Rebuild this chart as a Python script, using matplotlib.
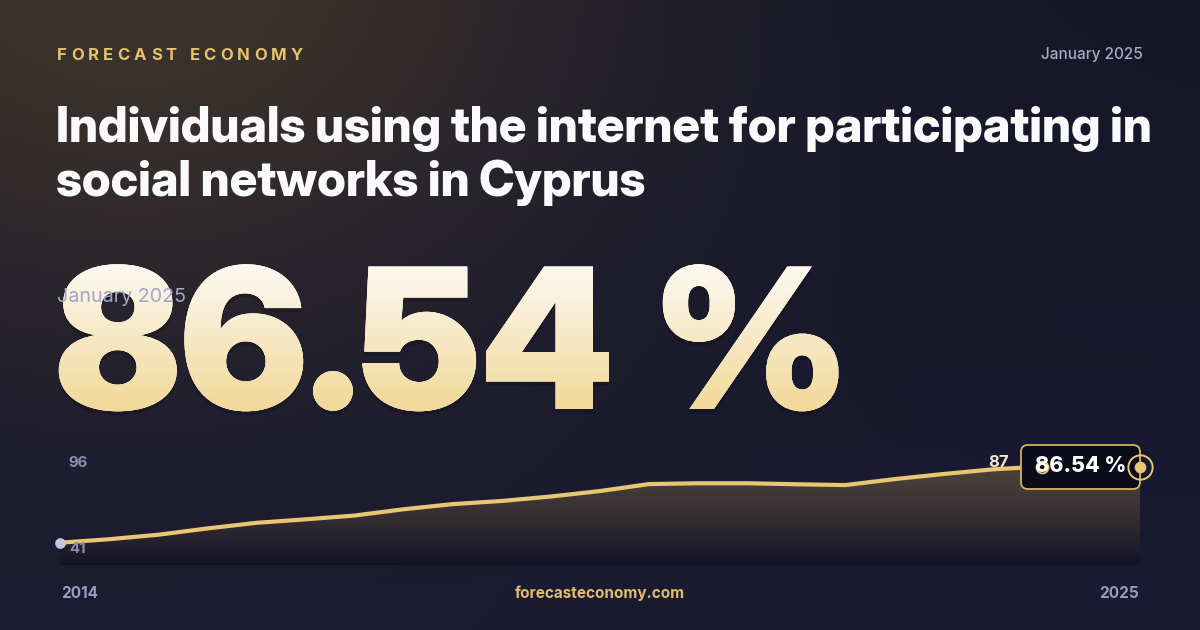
import numpy as np
import matplotlib
matplotlib.use("Agg")
import matplotlib.pyplot as plt
from matplotlib.patches import FancyBboxPatch, Polygon, PathPatch
from matplotlib.textpath import TextPath
from matplotlib.font_manager import FontProperties
from matplotlib.transforms import Affine2D
import matplotlib.patheffects as pe

# ---------------- data ----------------
years = [2014.0, 2014.5, 2015.0, 2015.5, 2016.0, 2016.5, 2017.0, 2017.5,
         2018.0, 2018.5, 2019.0, 2019.5, 2020.0, 2020.5, 2021.0, 2021.5,
         2022.0, 2022.5, 2023.0, 2023.5, 2024.0, 2024.5, 2025.0]
values = [41.0, 43.1, 45.8, 49.6, 53.0, 55.1, 57.4, 61.2,
          64.3, 66.2, 68.9, 72.2, 76.4, 76.9, 76.9, 76.3,
          75.8, 79.4, 82.5, 85.3, 87.0, 86.8, 86.54]
axis_max_label = "96"
axis_min_label = "41"
peak_year, peak_label = 2024.0, "87"
latest_value_text = "86.54 %"
start_year_label, end_year_label = "2014", "2025"
brand = "FORECAST ECONOMY"
date_label = "January 2025"
title_lines = ["Individuals using the internet for participating in",
               "social networks in Cyprus"]
site = "forecasteconomy.com"

W, H, DPI = 1200, 630, 100
GOLD = "#e8c674"

fig = plt.figure(figsize=(W / DPI, H / DPI), dpi=DPI)
renderer = fig.canvas.get_renderer()

# ---------------- background ----------------
bg = fig.add_axes([0, 0, 1, 1])
bg.set_xlim(0, W); bg.set_ylim(H, 0); bg.axis("off")
yy, xx = np.mgrid[0:H, 0:W].astype(float)
top = np.array([21, 22, 40], float); bot = np.array([26, 27, 50], float)
base = top + (bot - top) * (yy / H)[..., None]
glow_c = np.array([62, 52, 44], float)
d = np.hypot((xx - 130) / 1.3, yy + 40)
w = np.exp(-(d / 380.0) ** 2)[..., None]
img = base + (glow_c - base) * w
bg.imshow(np.clip(img / 255, 0, 1), extent=(0, W, H, 0), aspect="auto", zorder=0,
          interpolation="bilinear")
bg.set_xlim(0, W); bg.set_ylim(H, 0)

# ---------------- chart ----------------
px_top, px_bot, px_left, px_right = 440, 565, 60, 1140
ylo, yhi = 27.53, 103.02
ax = fig.add_axes([px_left / W, (H - px_bot) / H, (px_right - px_left) / W, (px_bot - px_top) / H])
ax.patch.set_alpha(0)
ax.axis("off")
verts = list(zip(years, values)) + [(years[-1], ylo), (years[0], ylo)]
poly = Polygon(verts, closed=True, facecolor="none", edgecolor="none")
ax.add_patch(poly)
ctop = np.array([0x4c, 0x42, 0x3a]) / 255
cbot = np.array([0x14, 0x14, 0x28]) / 255
t = np.linspace(0, 1, 256)[:, None]
grad = (ctop + (cbot - ctop) * t ** 1.25)[:, None, :]
gim = ax.imshow(grad, extent=(years[0], years[-1], ylo, max(values)), origin="upper",
                aspect="auto", zorder=1, interpolation="bilinear")
gim.set_clip_path(poly)
ax.plot(years, values, color=GOLD, lw=3.0, solid_capstyle="round", solid_joinstyle="round", zorder=3)
ax.set_xlim(years[0], years[-1]); ax.set_ylim(ylo, yhi)

# ---------------- overlay ----------------
ov = fig.add_axes([0, 0, 1, 1])
ov.set_xlim(0, W); ov.set_ylim(H, 0); ov.axis("off"); ov.patch.set_alpha(0)


def fit_text(axh, x, y, s, target_w, fs0, **kw):
    tx = axh.text(x, y, s, fontsize=fs0, **kw)
    wid = tx.get_window_extent(renderer).width
    tx.set_fontsize(fs0 * target_w / wid)
    return tx


def spaced(axh, x0, x1, y, s, **kw):
    ts = [axh.text(0, y, c, **kw) for c in s]
    ws = [tt.get_window_extent(renderer).width for tt in ts]
    gap = (x1 - x0 - sum(ws)) / (len(s) - 1)
    x = x0
    for tt, wd in zip(ts, ws):
        tt.set_x(x)
        x += wd + gap


spaced(ov, 57, 303, 59.5, brand, family="Inter", fontweight=700, fontsize=12,
       color="#e6c26e", va="baseline", ha="left")
ov.text(1143, 59.5, date_label, family="Inter", fontweight=500, fontsize=11,
        color="#a8aac6", ha="right", va="baseline")

# title
t1 = fit_text(ov, 56, 142, title_lines[0], 1096, 36, family="Inter Display", fontweight=800,
              color="#fafafd", ha="left", va="baseline")
ov.text(56, 196, title_lines[1], fontsize=t1.get_fontsize(), family="Inter Display",
        fontweight=800, color="#fafafd", ha="left", va="baseline")

# big number (real text + gradient overlay clipped to the same glyph outlines)
big_x, big_base = 55, 409
big = fit_text(ov, big_x, big_base, latest_value_text, 795, 140, family="Inter Display",
               fontweight=900, color="#f7ebc9", ha="left", va="baseline", zorder=4)
big.set_path_effects([pe.withSimplePatchShadow(offset=(0, -3), shadow_rgbFace="#05050d", alpha=0.22),
                      pe.Normal()])
fs_px = big.get_fontsize() * DPI / 72.0
tp = TextPath((0, 0), latest_value_text, size=fs_px,
              prop=FontProperties(family="Inter Display", weight=900))
tr = Affine2D().scale(1, -1).translate(big_x, big_base) + ov.transData
clip = PathPatch(tp, transform=tr, facecolor="none", edgecolor="none")
ov.add_patch(clip)
g2top = np.array([0xfd, 0xfb, 0xf6]) / 255
g2bot = np.array([0xf2, 0xd8, 0x98]) / 255
t2 = np.linspace(0, 1, 256)[:, None]
grad2 = (g2top + (g2bot - g2top) * t2)[:, None, :]
bim = ov.imshow(grad2, extent=(40, 880, 412, 258), aspect="auto", zorder=5,
                interpolation="bilinear")
bim.set_clip_path(clip)
ov.set_xlim(0, W); ov.set_ylim(H, 0)

ov.text(57, 302, date_label, family="Inter", fontweight=400, fontsize=14.2,
        color="#a3a6c6", ha="left", va="baseline", zorder=6)

# axis value labels
ov.text(68, 467, axis_max_label, family="Inter", fontweight=700, fontsize=10.8,
        color="#8c8fb0", ha="left", va="baseline")
ov.text(69, 553, axis_min_label, family="Inter", fontweight=700, fontsize=10.8,
        color="#8c8fb0", ha="left", va="baseline", zorder=6)

# peak label
ax_to_ov = ax.transData
ov.text(1009, 467, peak_label, family="Inter", fontweight=700, fontsize=12,
        color="#efe6d2", ha="right", va="baseline")

# latest value box
box = FancyBboxPatch((1021, 445), 119, 44, boxstyle="round,pad=0,rounding_size=7",
                     facecolor="#0b0c1a", edgecolor="#d6b260", lw=1.3, zorder=7)
ov.add_patch(box)
ov.plot([peak_year], [values[years.index(peak_year)]], transform=ax_to_ov, marker="o",
        markersize=8.6, markerfacecolor="none", markeredgecolor=GOLD, markeredgewidth=1.3,
        zorder=8, clip_on=False)
fit_text(ov, 1035, 472.5, latest_value_text, 91, 14.5, family="Inter", fontweight=800,
         color="#ffffff", ha="left", va="baseline", zorder=9)

# end + start markers
ov.plot([years[-1]], [values[-1]], transform=ax_to_ov, marker="o", markersize=17.5,
        markerfacecolor="none", markeredgecolor=GOLD, markeredgewidth=1.4, zorder=10, clip_on=False)
ov.plot([years[-1]], [values[-1]], transform=ax_to_ov, marker="o", markersize=8.4,
        markerfacecolor=GOLD, markeredgecolor="none", zorder=10, clip_on=False)
ov.plot([years[0]], [values[0]], transform=ax_to_ov, marker="o", markersize=7.7,
        markerfacecolor="#c3c6de", markeredgecolor="none", zorder=10, clip_on=False)

# bottom labels
ov.text(61, 598, start_year_label, family="Inter", fontweight=700, fontsize=11,
        color="#9a9dbd", ha="left", va="baseline")
ov.text(1139, 598, end_year_label, family="Inter", fontweight=700, fontsize=11,
        color="#9a9dbd", ha="right", va="baseline")
ov.text(600, 598, site, family="Inter", fontweight=700, fontsize=11,
        color="#e2bd6b", ha="center", va="baseline")

fig.savefig("out.png", dpi=DPI)
